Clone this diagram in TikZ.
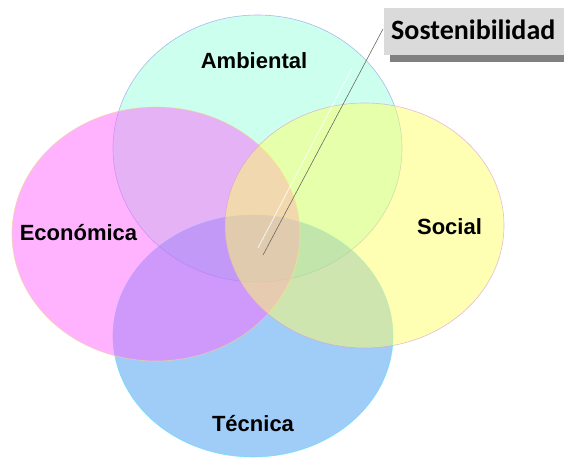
\documentclass[tikz,border=0pt]{standalone}
\usepackage{fontspec}
\setmainfont{Liberation Sans}
\newfontfamily\calibri{Carlito}
\usepackage{tikz}

\definecolor{ambcol}{RGB}{153,255,221}
\definecolor{ambline}{RGB}{140,160,230}
\definecolor{teccol}{RGB}{65,153,241}
\definecolor{tecline}{RGB}{90,225,250}
\definecolor{ecocol}{RGB}{255,103,255}
\definecolor{ecoline}{RGB}{240,215,140}
\definecolor{soccol}{RGB}{255,255,103}
\definecolor{socline}{RGB}{215,160,215}
\definecolor{boxgrey}{RGB}{218,218,218}
\definecolor{shadowgrey}{RGB}{128,128,128}
\definecolor{pointer}{RGB}{110,105,95}

\begin{document}
\begin{tikzpicture}[x=1pt, y=-1pt,
	circ/.style={fill opacity=0.5, draw opacity=0.7, line width=0.6pt},
	setname/.style={font=\fontsize{22}{26}\selectfont\bfseries, inner sep=0pt, anchor=base}]
	\useasboundingbox (0,0) rectangle (564,458);
	% the four sets
	\filldraw[circ, fill=ambcol, draw=ambline] (257.5,148.5) ellipse [x radius=144.5pt, y radius=133.5pt];
	\filldraw[circ, fill=teccol, draw=tecline] (253,336) ellipse [x radius=140pt, y radius=121pt];
	\filldraw[circ, fill=ecocol, draw=ecoline] (156,234) ellipse [x radius=144pt, y radius=127pt];
	\filldraw[circ, fill=soccol, draw=socline] (364.5,225.5) ellipse [x radius=139.5pt, y radius=122.5pt];
	\node[setname] (amb) at (254,68) {Ambiental};
	\node[setname] (eco) at (78.5,240) {Económica};
	\node[setname] (soc) at (449.5,234) {Social};
	\node[setname] (tec) at (253,431) {Técnica};
	% callout
	\fill[shadowgrey] (390,14) rectangle (570,62);
	\fill[boxgrey] (384,8) rectangle (570,55);
	\node[font=\calibri\fontsize{28}{32}\selectfont\bfseries, inner sep=0pt, anchor=base west] (sost) at (391,39) {Sostenibilidad};
	\coordinate (tip) at (383,29);
	\coordinate (hub) at (263,255);
	\coordinate (glint) at (258,248);
	\coordinate (glintend) at (352,68);
	\draw[white, opacity=0.8, line width=0.8pt] (glint) -- (glintend);
	\draw[pointer, line width=0.6pt] (tip) -- (hub);
\end{tikzpicture}
\end{document}
